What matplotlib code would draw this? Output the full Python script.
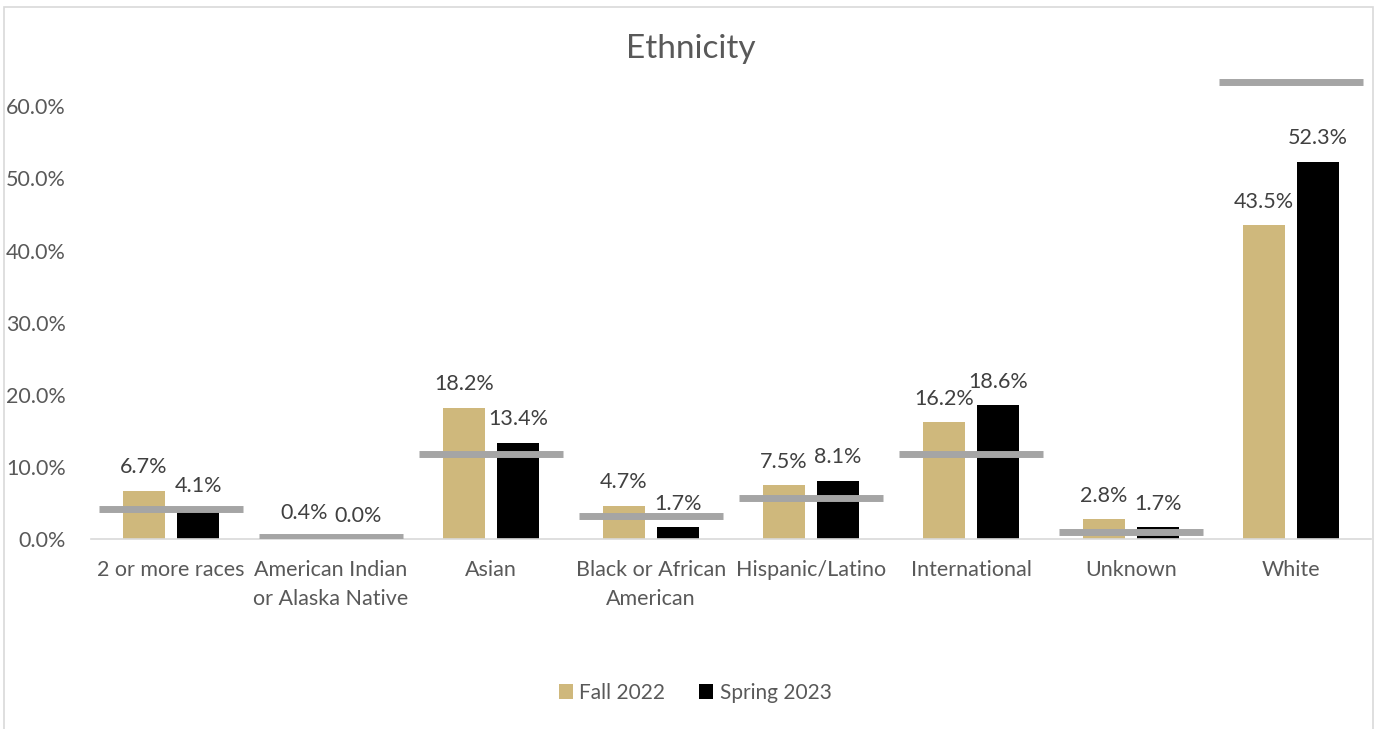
import numpy as np
import matplotlib
matplotlib.use("Agg")
import matplotlib.pyplot as plt
from matplotlib.patches import Rectangle

plt.rcParams['font.family'] = ['Lato', 'DejaVu Sans']

categories = ['2 or more races', 'American Indian\nor Alaska Native', 'Asian',
              'Black or African\nAmerican', 'Hispanic/Latino', 'International',
              'Unknown', 'White']
fall_2022 = [6.7, 0.4, 18.2, 4.7, 7.5, 16.2, 2.8, 43.5]
spring_2023 = [4.1, 0.0, 13.4, 1.7, 8.1, 18.6, 1.7, 52.3]
# grey benchmark marks (no labels in the source)
benchmark = [4.2, 0.4, 11.8, 3.2, 5.8, 11.8, 1.0, 63.3]

gold = '#CFB87C'
black = '#000000'
grey = '#A5A5A5'
txt = '#595959'

fig = plt.figure(figsize=(13.9, 7.29), dpi=100)
ax = fig.add_axes([0.0655, 0.26, 0.9208, 0.644])

x = np.arange(len(categories))
w = 0.265
off = 0.169

fall = np.array(fall_2022) / 100
spring = np.array(spring_2023) / 100
bench = np.array(benchmark) / 100

b1 = ax.bar(x - off, fall, w, color=gold, label='Fall 2022', zorder=2)
b2 = ax.bar(x + off, spring, w, color=black, label='Spring 2023', zorder=2)
ax.hlines(bench, x - 0.45, x + 0.45, color=grey, linewidth=5, zorder=3,
          capstyle='butt')

for xs, vals in ((x - off, fall), (x + off, spring)):
    for xi, v in zip(xs, vals):
        ax.annotate(f'{v*100:.1f}%', (xi, v), xytext=(0, 17),
                    textcoords='offset points', ha='center', va='center',
                    fontsize=15.5, color='#404040')

ax.set_xlim(-0.5, len(categories) - 0.5)
ax.set_ylim(0, 0.65)
ax.set_yticks(np.arange(0, 0.61, 0.1))
ax.set_yticklabels([f'{t*100:.1f}%' for t in np.arange(0, 0.61, 0.1)])
ax.set_xticks(x)
ax.set_xticklabels(categories, linespacing=1.55)
ax.tick_params(axis='both', length=0, labelsize=15.5, colors=txt)
ax.tick_params(axis='x', pad=15)
ax.tick_params(axis='y', pad=18)
for s in ('top', 'right', 'left'):
    ax.spines[s].set_visible(False)
ax.spines['bottom'].set_color('#D9D9D9')
ax.spines['bottom'].set_linewidth(1.2)

fig.text(0.497, 0.933, 'Ethnicity', ha='center', va='center',
         fontsize=24, color=txt)

leg = fig.legend(handles=[b1, b2], loc='center', bbox_to_anchor=(0.5, 0.05),
                 ncol=2, frameon=False, fontsize=15, handlelength=0.7,
                 handleheight=0.7, handletextpad=0.3, columnspacing=1.6)
for t in leg.get_texts():
    t.set_color(txt)

fig.patches.append(Rectangle((4 / 1390, -0.01), 1369 / 1390, 1.0,
                             transform=fig.transFigure, fill=False,
                             edgecolor='#D9D9D9', linewidth=1.2))

fig.savefig('out.png', dpi=100, facecolor='white')
